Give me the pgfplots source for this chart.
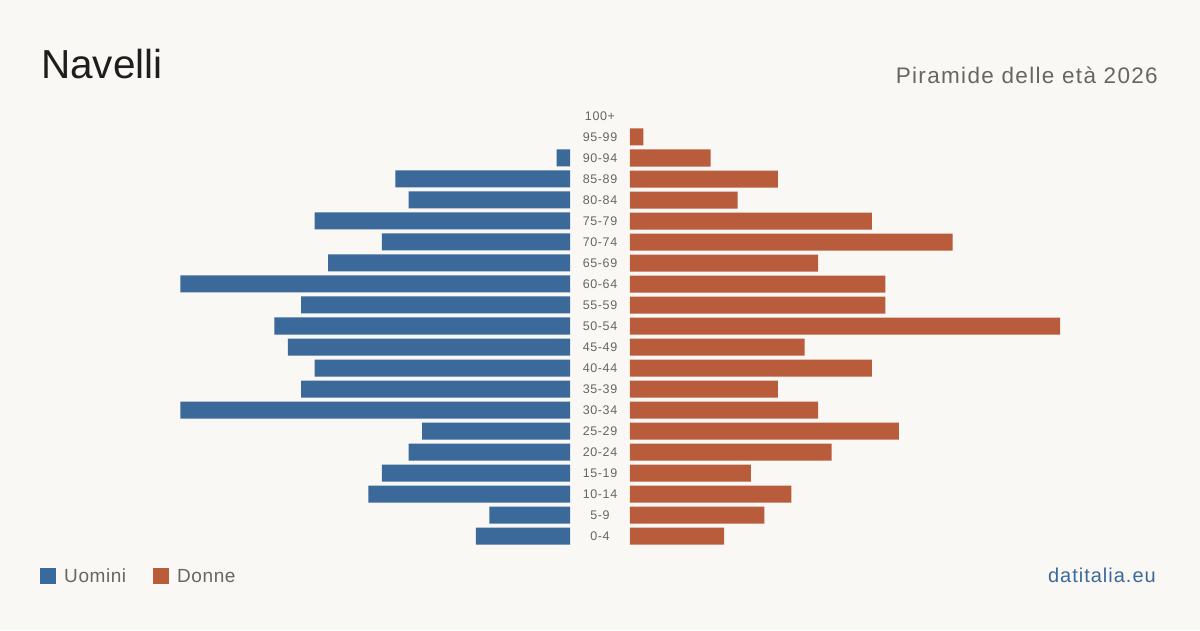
\documentclass[border=0pt]{standalone}
\usepackage{fontspec}
\setmainfont{Liberation Sans}
\usepackage{pgfplots}
\usepackage{pgfplotstable}
\pgfplotsset{compat=1.18}
\definecolor{bgc}{HTML}{F9F8F4}
\definecolor{bluec}{HTML}{3B6A9A}
\definecolor{orangec}{HTML}{B95C3C}
\definecolor{titlec}{HTML}{1E1E1E}
\definecolor{grayc}{HTML}{666666}
\pgfplotstableread{
age m f
0 7 7
1 6 10
2 15 12
3 14 9
4 12 15
5 11 20
6 29 14
7 20 11
8 19 18
9 21 13
10 22 32
11 20 19
12 29 19
13 18 14
14 14 24
15 19 18
16 12 8
17 13 11
18 1 6
19 nan 1
20 nan nan
}\pyr
\pgfplotsset{pyr/.style={
  scale only axis, width=430pt, height=441pt,
  xmin=0, xmax=32, ymin=-0.5, ymax=20.5,
  xbar, bar width=17pt, bar shift=0pt, unbounded coords=discard,
  xtick=\empty, axis line style={draw=none}, tick style={draw=none},
  major tick length=0pt,
  legend image code/.code={\fill[##1] (0pt,-8pt) rectangle (16pt,8pt);},
}}
\begin{document}
\begin{tikzpicture}[x=1pt,y=1pt]
\fill[bgc] (0,0) rectangle (1200,630);
\node[anchor=base west, text=titlec, font=\fontsize{40.5}{44}\selectfont, inner sep=0pt] at (41,551) {Navelli};
\node[anchor=base east, text=grayc, font=\fontsize{22.5}{26}\selectfont\addfontfeature{LetterSpace=6}, inner sep=0pt] at (1158,546) {Piramide delle età 2026};
\node[anchor=base east, text=bluec, font=\fontsize{20}{24}\selectfont\addfontfeature{LetterSpace=5}, inner sep=0pt] at (1156,48) {datitalia.eu};
\begin{axis}[pyr, at={(570pt,83.5pt)}, anchor=south east, x dir=reverse, ytick=\empty]
\addplot[fill=bluec, draw=none] table[x=m, y=age]{\pyr};
\end{axis}
\begin{axis}[pyr, at={(630pt,83.5pt)}, anchor=south west,
  ytick={0,...,20},
  yticklabels={0-4,5-9,10-14,15-19,20-24,25-29,30-34,35-39,40-44,45-49,50-54,55-59,60-64,65-69,70-74,75-79,80-84,85-89,90-94,95-99,100+},
  yticklabel style={anchor=center, xshift=-30pt, text=grayc, font=\fontsize{12.5}{14}\selectfont\addfontfeature{LetterSpace=5}},
  legend style={at={(-1.372,-0.0669)}, anchor=west, draw=none, fill=none, inner sep=0pt,
    legend columns=2, font=\fontsize{19}{22}\selectfont\addfontfeature{LetterSpace=3}, text=grayc,
    nodes={text height=13.5pt, text depth=0pt},
    /tikz/every odd column/.append style={column sep=6pt},
    /tikz/every even column/.append style={column sep=25pt}},
  legend cell align=left]
\addlegendimage{fill=bluec, draw=none}
\addlegendentry{Uomini}
\addplot[fill=orangec, draw=none] table[x=f, y=age]{\pyr};
\addlegendentry{Donne}
\end{axis}
\end{tikzpicture}
\end{document}
